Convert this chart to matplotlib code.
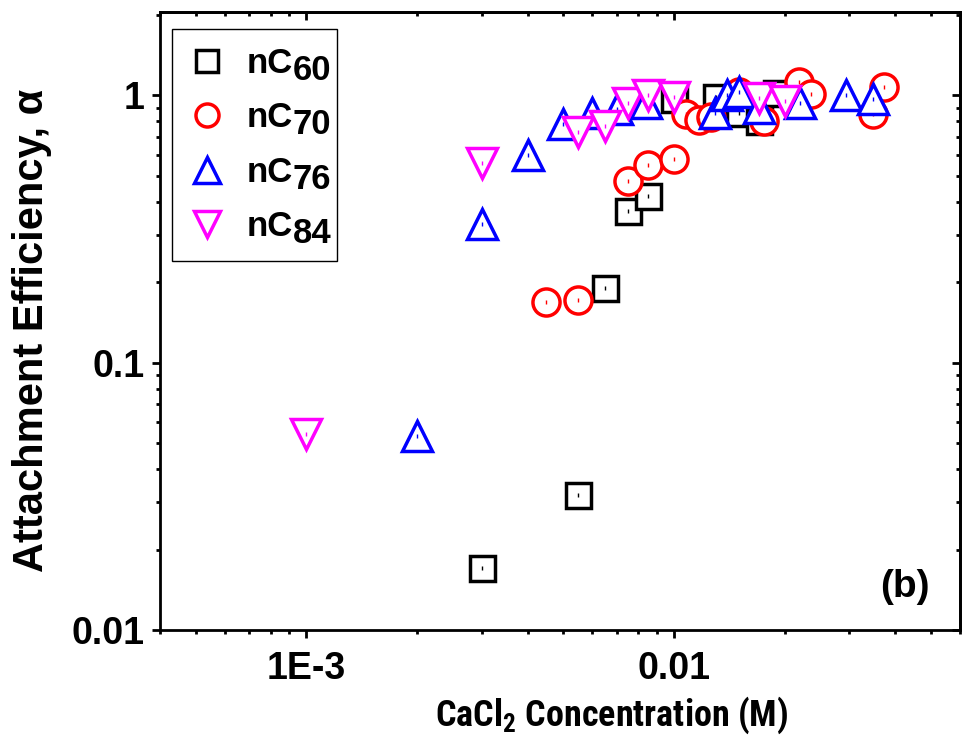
import numpy as np
import matplotlib
matplotlib.use("Agg")
import matplotlib.pyplot as plt
from matplotlib import font_manager as fm
from matplotlib.ticker import FixedLocator, LogLocator, FixedFormatter, NullFormatter

# data
c60_x = [0.003, 0.0055, 0.0065, 0.0075, 0.0085, 0.01, 0.013, 0.015, 0.017, 0.019]
c60_y = [0.017, 0.032, 0.19, 0.37, 0.42, 0.97, 0.99, 0.86, 0.80, 1.02]

c70_x = [0.0045, 0.0055, 0.0075, 0.0085, 0.01, 0.0108, 0.0117, 0.0126, 0.015, 0.0176, 0.0219, 0.0236, 0.0347, 0.0372]
c70_y = [0.168, 0.172, 0.48, 0.55, 0.58, 0.85, 0.81, 0.83, 1.03, 0.80, 1.12, 1.01, 0.85, 1.07]

c76_x = [0.002, 0.003, 0.004, 0.005, 0.006, 0.007, 0.0084, 0.0129, 0.0139, 0.015, 0.017, 0.022, 0.0293, 0.0347]
c76_y = [0.053, 0.33, 0.60, 0.78, 0.86, 0.89, 0.94, 0.86, 1.0, 1.03, 0.90, 0.94, 1.0, 0.97]

c84_x = [0.001, 0.003, 0.0055, 0.0065, 0.0075, 0.0085, 0.01, 0.017, 0.02]
c84_y = [0.054, 0.556, 0.73, 0.765, 0.94, 1.0, 0.99, 0.98, 0.95]

names = ["nC", "nC", "nC", "nC"]
subs = ["60", "70", "76", "84"]
xticks = [1e-3, 1e-2]
xticklabels = ["1E-3", "0.01"]
yticks = [0.01, 0.1, 1]
yticklabels = ["0.01", "0.1", "1"]

installed = {f.name for f in fm.fontManager.ttflist}
narrow = "Liberation Sans"
for cand in ["Liberation Sans Narrow", "Arial Narrow", "Roboto Condensed", "Barlow Semi Condensed"]:
    if cand in installed:
        narrow = cand
        break
plt.rcParams["font.family"] = ["Liberation Sans", "DejaVu Sans"]
plt.rcParams["font.weight"] = "bold"

fig = plt.figure(figsize=(9.65, 7.4), dpi=100)
ax = fig.add_axes([160/965, 1-630/740, 800/965, 618/740])

series = [
    (c60_x, c60_y, "s", "#000000", 18),
    (c70_x, c70_y, "o", "#FF0000", 19.5),
    (c76_x, c76_y, "^", "#0000FF", 22),
    (c84_x, c84_y, "v", "#FF00FF", 22),
]
handles = []
for x, y, m, c, ms in series:
    h, = ax.plot(x, y, ls="none", marker=m, ms=ms, mfc="white", mec=c, mew=2.5)
    ax.plot(x, y, ls="none", marker="|", ms=3, mew=1, color=c)
    handles.append(h)

ax.set_xscale("log")
ax.set_yscale("log")
ax.set_xlim(4e-4, 0.06)
ax.set_ylim(0.01, 2.05)

ax.xaxis.set_major_locator(FixedLocator(xticks))
ax.xaxis.set_major_formatter(FixedFormatter(xticklabels))
ax.xaxis.set_minor_locator(LogLocator(base=10, subs=np.arange(2, 10)))
ax.xaxis.set_minor_formatter(NullFormatter())
ax.yaxis.set_major_locator(FixedLocator(yticks))
ax.yaxis.set_major_formatter(FixedFormatter(yticklabels))
ax.yaxis.set_minor_locator(LogLocator(base=10, subs=np.arange(2, 10)))
ax.yaxis.set_minor_formatter(NullFormatter())

for s in ax.spines.values():
    s.set_linewidth(2)
ax.tick_params(which="major", direction="out", length=6, width=2, labelsize=27)
ax.tick_params(axis="x", which="major", pad=9)
ax.tick_params(axis="y", which="major", pad=5)
ax.tick_params(which="minor", direction="out", length=3, width=2)

# mirrored ticks pointing inward on top and right
top = ax.secondary_xaxis("top")
top.set_xscale("log")
top.xaxis.set_major_locator(FixedLocator(xticks))
top.xaxis.set_minor_locator(LogLocator(base=10, subs=np.arange(2, 10)))
top.tick_params(which="major", direction="in", length=6, width=2, labeltop=False)
top.tick_params(which="minor", direction="in", length=3, width=2)
top.spines["top"].set_linewidth(2)
right = ax.secondary_yaxis("right")
right.set_yscale("log")
right.yaxis.set_major_locator(FixedLocator(yticks))
right.yaxis.set_minor_locator(LogLocator(base=10, subs=np.arange(2, 10)))
right.tick_params(which="major", direction="in", length=6, width=2, labelright=False)
right.tick_params(which="minor", direction="in", length=3, width=2)
right.spines["right"].set_linewidth(2)

ax.set_xlabel(r"CaCl$_\mathregular{2}$ Concentration (M)", fontsize=26, family=narrow, fontweight="bold")
ax.xaxis.set_label_coords(0.565, -0.105)
ax.set_ylabel("Attachment Efficiency, α", fontsize=30, fontweight="bold")
ax.yaxis.set_label_coords(-0.135, 0.485)

ax.text(0.9625, 0.07, "(b)", transform=ax.transAxes, fontsize=28, fontweight="bold",
        ha="right", va="center")

# legend box widened to leave room for the full-size subscripts
leg = ax.legend(handles, names, loc="upper left", mode="expand",
                bbox_to_anchor=(0.015, 0.595, 0.206, 0.377), borderaxespad=0, fontsize=25,
                frameon=True, fancybox=False, edgecolor="black", framealpha=1,
                handlelength=1.0, handletextpad=0.65, labelspacing=0.62, borderpad=0.5,
                markerscale=0.85)
leg.get_frame().set_linewidth(1)
for t, s in zip(leg.get_texts(), subs):
    ax.annotate(s, xy=(1, 0), xycoords=t, xytext=(0, 0), textcoords="offset points",
                fontsize=25, fontweight="bold", ha="left", va="baseline", zorder=6)

fig.savefig("out.png", dpi=100)
